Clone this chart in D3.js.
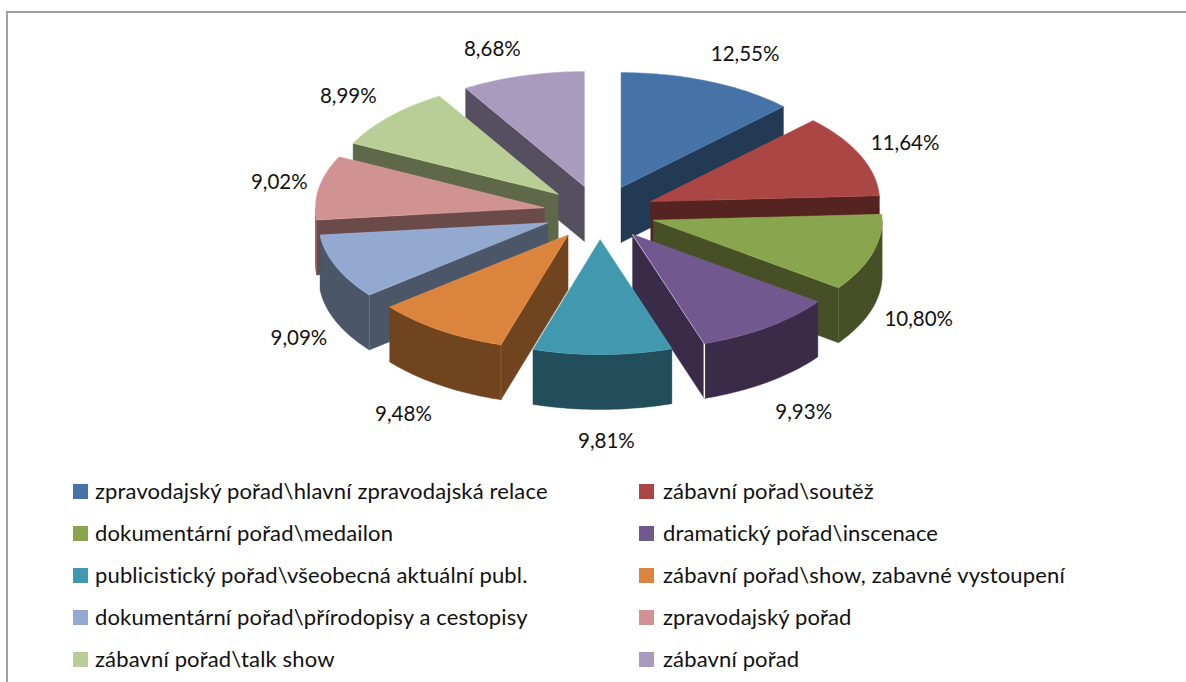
<!DOCTYPE html>
<html><head><meta charset="utf-8">
<script src="https://cdnjs.cloudflare.com/ajax/libs/d3/7.8.5/d3.min.js"></script>
<style>html,body{margin:0;padding:0;background:#fff;overflow:hidden}svg{display:block}text{font-family:Lato,"Noto Sans",sans-serif;fill:#111}</style>
</head><body><svg id="c" width="1186" height="682"></svg>
<script>
const categories = ["zpravodajský pořad\\hlavní zpravodajská relace","zábavní pořad\\soutěž","dokumentární pořad\\medailon","dramatický pořad\\inscenace","publicistický pořad\\všeobecná aktuální publ.","zábavní pořad\\show, zabavné vystoupení","dokumentární pořad\\přírodopisy a cestopisy","zpravodajský pořad","zábavní pořad\\talk show","zábavní pořad"];
const values = [12.55,11.64,10.80,9.93,9.81,9.48,9.09,9.02,8.99,8.68];
const topColors = ["#4573A7","#AA4644","#89A54E","#71588F","#4198AF","#DB843D","#93A9CF","#D19392","#B9CD96","#A99BBD"];
const sideColors = ["#233A55","#552320","#464F26","#3A2B48","#224D5A","#70441F","#4B5668","#6B4A4A","#5F6849","#564F60"];
const labelNudgeX = [7,0,0,0,-1,-1,8,7,-1,-6];
const labelNudgeY = [0,0,2,5,1,4,5,0,0,2];

const fmt = v => v.toFixed(2).replace(".", ",") + "%";
const svg = d3.select("#c");
const cx = 599.5, cy = 212.5, rx = 229, ry = 115, ex = 56, ey = 27, depth = 55;
const TAU = 2*Math.PI;

svg.append("path").attr("d","M7,682V12H1186").attr("fill","none").attr("stroke","#a0a0a0").attr("stroke-width",2);

const pie = d3.pie().sort(null).value(d=>d.v).startAngle(0).endAngle(TAU);
const arcs = pie(values.map((v,i)=>({v,i})));
const line = d3.line();

arcs.forEach(a=>{ a.mid=(a.startAngle+a.endAngle)/2;
  a.ax=cx+ex*Math.sin(a.mid); a.ay=cy-ey*Math.cos(a.mid); });
const pt=(a,t,z=0)=>[a.ax+rx*Math.sin(t), a.ay-ry*Math.cos(t)+z];
const samples=(t0,t1)=>{const n=Math.max(2,Math.ceil((t1-t0)/0.02));return d3.range(n+1).map(k=>t0+(t1-t0)*k/n);};

const order=arcs.slice().sort((p,q)=>d3.descending(Math.cos(p.mid),Math.cos(q.mid)));
const g=svg.append("g");
order.forEach(a=>{
  const i=a.data.i, s=sideColors[i];
  const sl=g.append("g");
  const face=pts=>sl.append("path").attr("d",line(pts)+"Z").attr("fill",s).attr("stroke",s).attr("stroke-width",0.4);
  const corners=[];
  if(Math.sin(a.startAngle)<0){ face([[a.ax,a.ay],pt(a,a.startAngle),pt(a,a.startAngle,depth),[a.ax,a.ay+depth]]); corners.push(a.startAngle); }
  if(Math.sin(a.endAngle)>0){ face([[a.ax,a.ay],pt(a,a.endAngle),pt(a,a.endAngle,depth),[a.ax,a.ay+depth]]); corners.push(a.endAngle); }
  const w0=Math.max(a.startAngle,Math.PI/2), w1=Math.min(a.endAngle,3*Math.PI/2);
  if(w1>w0){const ts=samples(w0,w1);
    face(ts.map(t=>pt(a,t)).concat(ts.slice().reverse().map(t=>pt(a,t,depth))));
    corners.filter(t=>t>=w0&&t<=w1).forEach(t=>{
      const white=i===3;
      sl.append("path").attr("d",line([pt(a,t),pt(a,t,depth)])).attr("fill","none")
        .attr("stroke",white?"#fff":d3.color(s).brighter(0.9)).attr("stroke-width",white?1.5:0.8);
      if(white) sl.append("path").attr("d",line([[a.ax,a.ay],pt(a,t)])).attr("fill","none").attr("stroke","#fff").attr("stroke-width",1.2);
    });
  }
  const top=[[a.ax,a.ay]].concat(samples(a.startAngle,a.endAngle).map(t=>pt(a,t)));
  sl.append("path").attr("d",line(top)+"Z").attr("fill",topColors[i]).attr("stroke",d3.color(topColors[i]).brighter(0.4)).attr("stroke-width",0.5);
});

arcs.forEach(a=>{
  const i=a.data.i, sn=Math.sin(a.mid), cs=Math.cos(a.mid);
  const p=pt(a,a.mid, cs<0?depth:0);
  const x=p[0]+47*Math.sign(sn)*Math.sqrt(Math.abs(sn))+labelNudgeX[i], y=p[1]-30*cs+labelNudgeY[i];
  svg.append("text").attr("x",x).attr("y",y).attr("dy","0.35em").attr("text-anchor","middle").attr("font-size",20.5).text(fmt(values[i]));
});

const rows=d3.scaleLinear().domain([0,4]).range([491.5,659.5]);
const cols=d3.scaleOrdinal().domain([0,1]).range([73,639]);
categories.forEach((c,i)=>{
  const col=i%2,row=Math.floor(i/2),x=cols(col),y=rows(row);
  svg.append("rect").attr("x",x).attr("y",y-7.5).attr("width",15).attr("height",15).attr("fill",topColors[i]);
  svg.append("text").attr("x",x+22+(col?2:0)).attr("y",y).attr("dy","0.35em").attr("font-size",22).attr("letter-spacing",0.15).text(c);
});
</script></body></html>
